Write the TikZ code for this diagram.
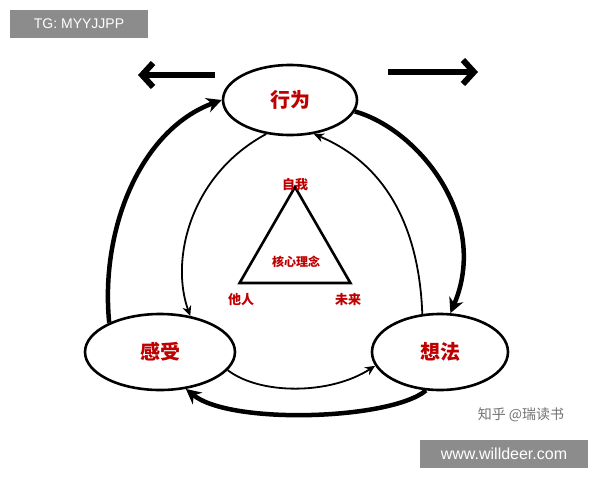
\documentclass[tikz,border=0pt]{standalone}
\usepackage{fontspec}
\setmainfont{Liberation Sans}
\newfontfamily\cjk{Noto Sans CJK SC}
\usetikzlibrary{arrows.meta,shapes,positioning}
\begin{document}
\begin{tikzpicture}[x=1pt,y=-1pt,
    state/.style={draw, ellipse, line width=2.6pt, font=\cjk\bfseries\fontsize{20}{20}\selectfont, text=red!75!black},
    big/.style={line width=6pt, -{Straight Barb[length=11pt,width=24pt]}},
    outer/.style={line width=4.5pt, -{Stealth[length=15pt,width=15pt]}},
    inner/.style={line width=1.8pt, -{Stealth[length=10pt,width=9pt]}},
    lbl/.style={font=\cjk\bfseries\fontsize{13}{13}\selectfont, text=red!75!black}]
\useasboundingbox (0,0) rectangle (600,480);
\fill[white] (0,0) rectangle (600,480);
% states
\node[state, minimum width=134pt, minimum height=70pt] (act) at (290,100) {行为};
\node[state, minimum width=150pt, minimum height=76pt] (feel) at (160,352) {感受};
\node[state, minimum width=136pt, minimum height=76pt] (think) at (440,352) {想法};
% top arrows
\coordinate (la) at (215,75); \coordinate (lb) at (138,75);
\coordinate (ra) at (388,72); \coordinate (rb) at (478,72);
\draw[big] (la) -- (lb);
\draw[big] (ra) -- (rb);
% outer cycle
\draw[outer] (feel.150) .. controls (100,230) and (140,130) .. (act.180);
\draw[outer] (act.-10) .. controls (420,130) and (490,220) .. (think.75);
\draw[outer] (think.-110) .. controls (390,420) and (230,425) .. (feel.-55);
% inner cycle
\draw[inner] (act.-125) .. controls (190,175) and (170,260) .. (feel.50);
\draw[inner] (feel.-15) .. controls (260,395) and (330,395) .. (think.192);
\draw[inner] (think.115) .. controls (420,250) and (400,170) .. (act.-55);
% core triangle
\node[draw, regular polygon, regular polygon sides=3, line width=2.6pt, minimum size=128pt] (tri) at (295,251) {};
\node[lbl] (self) at (295,185) {自我};
\node[lbl] (other) at (241,300) {他人};
\node[lbl] (future) at (348,300) {未来};
\node[lbl, font=\cjk\bfseries\fontsize{12}{12}\selectfont] (core) at (296,262) {核心理念};
% watermarks
\node[fill=black!45, text=white, minimum width=138pt, minimum height=28pt, font=\fontsize{14}{14}\selectfont] (tg) at (79,24) {TG: MYYJJPP};
\node[text=black!55, font=\cjk\fontsize{14}{14}\selectfont] (zh) at (521,415) {知乎 @瑞读书};
\node[fill=black!45, text=white, minimum width=168pt, minimum height=28pt, font=\fontsize{16}{16}\selectfont] (www) at (504,454) {www.willdeer.com};
\end{tikzpicture}
\end{document}
